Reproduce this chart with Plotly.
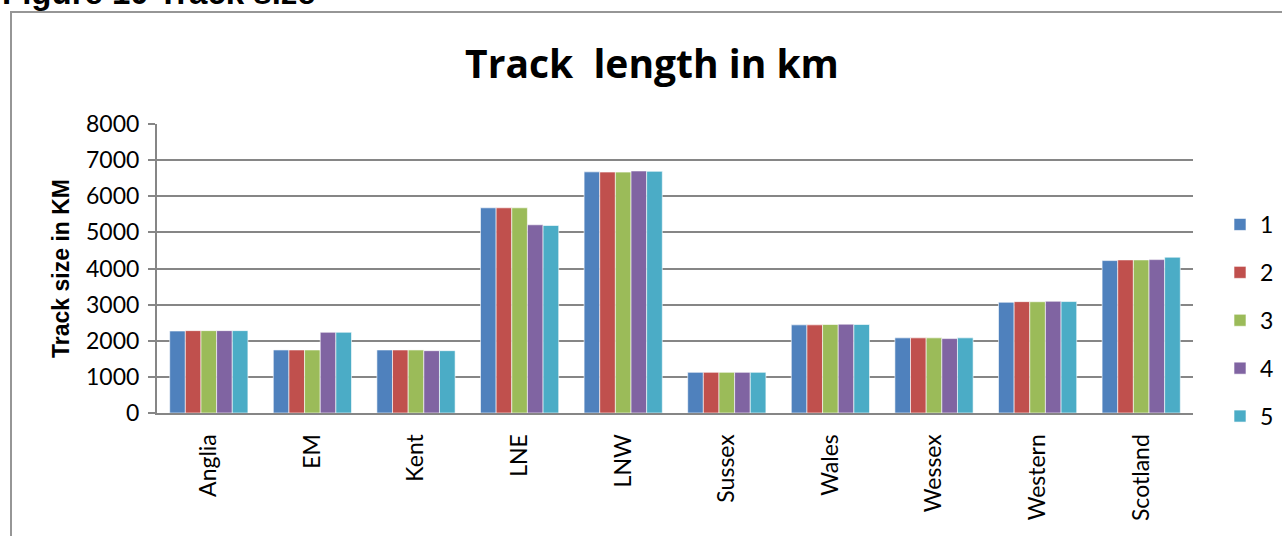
import plotly.graph_objects as go

categories = ["Anglia", "EM", "Kent", "LNE", "LNW", "Sussex", "Wales", "Wessex", "Western", "Scotland"]
series_names = ["1", "2", "3", "4", "5"]
s1 = [2270, 1745, 1745, 5680, 6675, 1127, 2440, 2080, 3066, 4219]
s2 = [2280, 1745, 1745, 5680, 6670, 1127, 2440, 2080, 3083, 4238]
s3 = [2280, 1745, 1745, 5680, 6668, 1127, 2450, 2080, 3080, 4238]
s4 = [2280, 2235, 1725, 5210, 6700, 1127, 2460, 2060, 3094, 4246]
s5 = [2280, 2235, 1725, 5190, 6690, 1127, 2450, 2080, 3085, 4313]
y_ticks = [0, 1000, 2000, 3000, 4000, 5000, 6000, 7000, 8000]
colors = ["#4F81BD", "#C0504D", "#9BBB59", "#8064A2", "#4BACC6"]

FONT = "Lato, Open Sans, Liberation Sans, sans-serif"

fig = go.Figure()
for i, (name, vals) in enumerate(zip(series_names, [s1, s2, s3, s4, s5])):
    fig.add_trace(go.Bar(
        x=categories, y=vals, name=name, legendgroup=name,
        marker=dict(color=colors[i], line=dict(color="rgba(255,255,255,0.6)", width=1)),
    ))

L, R, T, B = 157, 89, 124, 123
W, H = 1282, 536
pw, ph = W - L - R, H - T - B

def px_x(px):
    return (px - L) / pw

def px_y(py):
    return (H - B - py) / ph

fig.update_layout(
    width=W, height=H,
    margin=dict(l=L, r=R, t=T, b=B, pad=0, autoexpand=False),
    paper_bgcolor="white", plot_bgcolor="white",
    barmode="group", bargap=0.245, bargroupgap=0,
    font=dict(family=FONT, color="black", size=23),
    title=dict(text="<b>Track  length in km</b>", x=652 / W, xanchor="center", xref="container",
               y=1 - 64 / H, yanchor="middle", yref="container",
               font=dict(size=39, family="Open Sans, Liberation Sans, sans-serif")),
    legend=dict(x=1220 / W, xanchor="left", xref="container",
                y=1 - 203 / H, yanchor="top", yref="container",
                traceorder="grouped", tracegroupgap=15,
                font=dict(size=23, family=FONT), itemwidth=30, bgcolor="rgba(0,0,0,0)"),
    xaxis=dict(showline=True, linecolor="#868686", linewidth=2, tickangle=-90,
               ticks="", showgrid=False, tickfont=dict(size=23), automargin=False,
               ticklabelstandoff=10),
    yaxis=dict(range=[0, 8000], tickvals=y_ticks, ticktext=[str(v) for v in y_ticks],
               showline=True, linecolor="#868686", linewidth=2,
               ticks="outside", ticklen=7, tickcolor="#868686", tickwidth=2,
               showgrid=True, gridcolor="#868686", gridwidth=2,
               zeroline=False, tickfont=dict(size=23), automargin=False,
               ticklabelstandoff=4,
               title=dict(text="<b>Track size in KM</b>", font=dict(size=23, family="Liberation Sans, Arial, sans-serif"), standoff=10)),
    shapes=[dict(type="rect", xref="paper", yref="paper",
                 x0=px_x(11), x1=px_x(1295), y0=px_y(12), y1=px_y(550),
                 line=dict(color="#969696", width=2), fillcolor="rgba(0,0,0,0)", layer="below")],
    annotations=[dict(text="<b>Figure 10 Track size</b>", xref="paper", yref="paper",
                      x=px_x(0), y=px_y(-7), xanchor="left", yanchor="middle",
                      showarrow=False, font=dict(size=33, family="Liberation Sans, Arial, sans-serif"))],
)

fig.write_html("out.html")
